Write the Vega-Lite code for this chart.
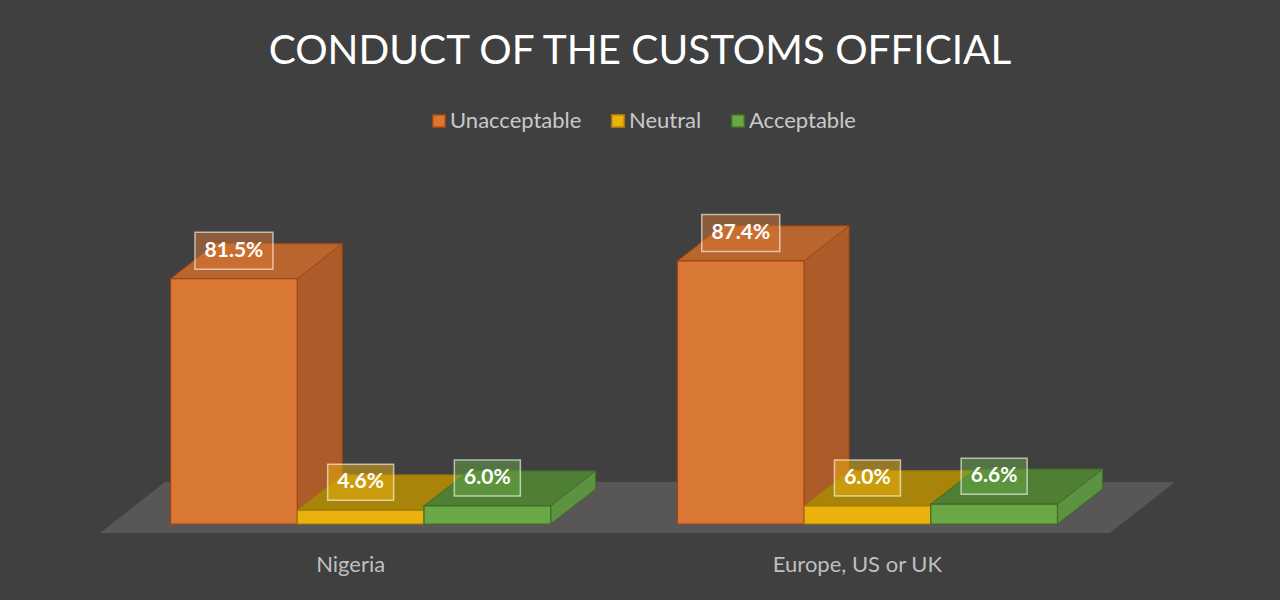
{
  "$schema": "https://vega.github.io/schema/vega-lite/v6.json",
  "width": 1280,
  "height": 301,
  "autosize": {"type": "none"},
  "padding": {"left": 0, "right": 0, "top": 223, "bottom": 76},
  "background": "#404040",
  "config": {"font": "Lato", "view": {"stroke": null}},
  "title": {
    "text": "CONDUCT OF THE CUSTOMS OFFICIAL",
    "fontSize": 40.5,
    "fontWeight": "normal",
    "color": "#ffffff",
    "anchor": "middle",
    "frame": "group",
    "baseline": "alphabetic",
    "offset": 6
  },
  "data": {
    "values": [
      {"country": "Nigeria", "category": "Unacceptable", "bar": "Nigeria|Unacceptable", "share": 0.815},
      {"country": "Nigeria", "category": "Neutral", "bar": "Nigeria|Neutral", "share": 0.046},
      {"country": "Nigeria", "category": "Acceptable", "bar": "Nigeria|Acceptable", "share": 0.06},
      {"country": "Europe, US or UK", "category": "Unacceptable", "bar": "Europe, US or UK|Unacceptable", "share": 0.874},
      {"country": "Europe, US or UK", "category": "Neutral", "bar": "Europe, US or UK|Neutral", "share": 0.06},
      {"country": "Europe, US or UK", "category": "Acceptable", "bar": "Europe, US or UK|Acceptable", "share": 0.066}
    ]
  },
  "encoding": {
    "x": {
      "field": "bar",
      "type": "nominal",
      "sort": null,
      "scale": {
        "domain": ["Nigeria|Unacceptable", "Nigeria|Neutral", "Nigeria|Acceptable", "gap", "Europe, US or UK|Unacceptable", "Europe, US or UK|Neutral", "Europe, US or UK|Acceptable"],
        "range": [170.6, 1057.5],
        "paddingInner": 0,
        "paddingOuter": 0
      },
      "axis": {
        "title": null,
        "domain": false,
        "ticks": false,
        "grid": false,
        "labelAngle": 0,
        "labelFontSize": 22,
        "labelColor": "#bfbfbf",
        "labelPadding": 30,
        "labelOffset": -10,
        "labelOverlap": false,
        "labelExpr": "split(datum.value, '|')[1] === 'Neutral' ? split(datum.value, '|')[0] : ''"
      }
    },
    "y": {
      "field": "share",
      "type": "quantitative",
      "scale": {"domain": [0, 1], "nice": false, "zero": true},
      "axis": null
    }
  },
  "layer": [
    {
      "transform": [{"filter": "datum.bar === 'Nigeria|Unacceptable'"}],
      "mark": {
        "type": "point",
        "shape": "M -134 9 L 876 9 L 941 -42 L -69 -42 Z",
        "size": 4,
        "filled": true,
        "fill": "#585656",
        "opacity": 1,
        "strokeWidth": 0
      },
      "encoding": {
        "y": {"datum": 0, "type": "quantitative"}
      }
    },
    {
      "mark": {"type": "bar", "xOffset": 45, "yOffset": -35, "y2Offset": -35, "strokeWidth": 1},
      "encoding": {
        "fill": {
          "condition": [
            {"test": "datum.category === 'Unacceptable'", "value": "#ad5b28"},
            {"test": "datum.category === 'Neutral'", "value": "#b38a05"}
          ],
          "value": "#5c9340"
        },
        "stroke": {
          "condition": [
            {"test": "datum.category === 'Unacceptable'", "value": "#9c4512"},
            {"test": "datum.category === 'Neutral'", "value": "#a07b00"}
          ],
          "value": "#3e6b27"
        }
      }
    },
    {
      "mark": {
        "type": "point",
        "shape": "M 63.35 -37 L 63.35 0 L 108.35 -35 L 108.35 -37",
        "size": 4,
        "filled": true,
        "opacity": 1,
        "strokeWidth": 1
      },
      "encoding": {
        "y": {"datum": 0, "type": "quantitative"},
        "fill": {
          "condition": [
            {"test": "datum.category === 'Unacceptable'", "value": "#ad5b28"},
            {"test": "datum.category === 'Neutral'", "value": "#b38a05"}
          ],
          "value": "#5c9340"
        },
        "stroke": {
          "condition": [
            {"test": "datum.category === 'Unacceptable'", "value": "#9c4512"},
            {"test": "datum.category === 'Neutral'", "value": "#a07b00"}
          ],
          "value": "#3e6b27"
        }
      }
    },
    {
      "mark": {
        "type": "point",
        "shape": "M -63.35 0 L 63.35 0 L 108.35 -35 L -18.35 -35 Z",
        "size": 4,
        "filled": true,
        "opacity": 1,
        "strokeWidth": 1
      },
      "encoding": {
        "fill": {
          "condition": [
            {"test": "datum.category === 'Unacceptable'", "value": "#b9652e"},
            {"test": "datum.category === 'Neutral'", "value": "#a8840a"}
          ],
          "value": "#4f7f35"
        },
        "stroke": {
          "condition": [
            {"test": "datum.category === 'Unacceptable'", "value": "#9c4512"},
            {"test": "datum.category === 'Neutral'", "value": "#a07b00"}
          ],
          "value": "#3e6b27"
        }
      }
    },
    {
      "mark": {"type": "bar", "strokeWidth": 1.2},
      "encoding": {
        "fill": {
          "field": "category",
          "type": "nominal",
          "scale": {"domain": ["Unacceptable", "Neutral", "Acceptable"], "range": ["#d97834", "#ebb10c", "#6aa846"]},
          "legend": {
            "orient": "none",
            "legendX": 428,
            "legendY": -113,
            "direction": "horizontal",
            "title": null,
            "symbolType": "square",
            "symbolSize": 160,
            "symbolStrokeWidth": 1.5,
            "labelFontSize": 22,
            "labelColor": "#c9c9c9",
            "labelOffset": 0,
            "columnPadding": 25
          }
        },
        "stroke": {
          "field": "category",
          "type": "nominal",
          "scale": {"domain": ["Unacceptable", "Neutral", "Acceptable"], "range": ["#9c4512", "#a07b00", "#3e6b27"]},
          "legend": {
            "orient": "none",
            "legendX": 428,
            "legendY": -113,
            "direction": "horizontal",
            "title": null,
            "symbolType": "square",
            "symbolSize": 160,
            "symbolStrokeWidth": 1.5,
            "labelFontSize": 22,
            "labelColor": "#c9c9c9",
            "labelOffset": 0,
            "columnPadding": 25
          }
        }
      }
    },
    {
      "mark": {
        "type": "point",
        "size": 4,
        "filled": true,
        "opacity": 1,
        "fillOpacity": 0.5,
        "stroke": "#ffffff",
        "strokeOpacity": 0.6,
        "strokeWidth": 1.5
      },
      "encoding": {
        "shape": {
          "condition": {"test": "datum.share >= 0.1", "value": "M -39 -46.5 H 39 V -9.5 H -39 Z"},
          "value": "M -33 -46 H 33 V -10 H -33 Z"
        },
        "fill": {
          "condition": [
            {"test": "datum.category === 'Unacceptable'", "value": "#d97834"},
            {"test": "datum.category === 'Neutral'", "value": "#ebb10c"}
          ],
          "value": "#6aa846"
        }
      }
    },
    {
      "mark": {
        "type": "text",
        "dy": -28,
        "baseline": "middle",
        "align": "center",
        "fontSize": 21,
        "fontWeight": "bold",
        "fill": "#ffffff"
      },
      "encoding": {
        "text": {"field": "share", "type": "quantitative", "format": ".1%"}
      }
    }
  ]
}
